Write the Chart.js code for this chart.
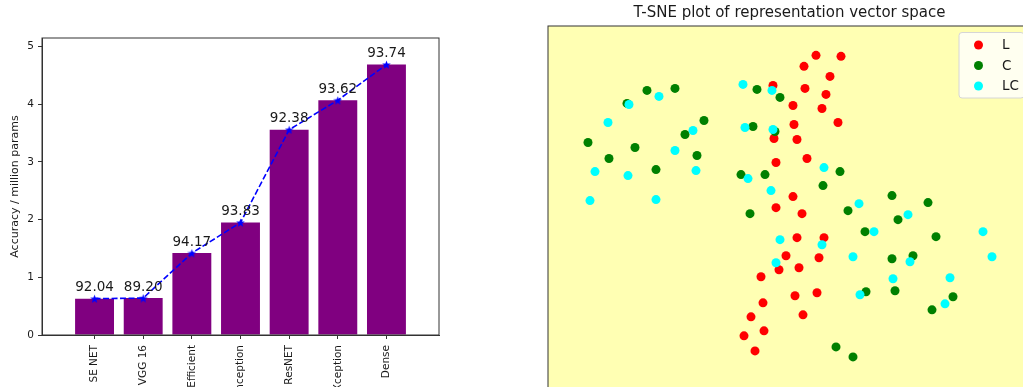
<!DOCTYPE html>
<html>
<head>
<meta charset="utf-8">
<script src="https://cdn.jsdelivr.net/npm/chart.js@4.4.1/dist/chart.umd.min.js"></script>
<style>
  html, body { margin: 0; padding: 0; background: #fff; overflow: hidden; width: 1023px; height: 387px; }
  #left { position: absolute; left: 0; top: 0; width: 450px; height: 420px; }
  #right { position: absolute; left: 540px; top: 0; width: 500px; height: 420px; }
</style>
</head>
<body>
<div id="left"><canvas id="barChart"></canvas></div>
<div id="right"><canvas id="tsneChart"></canvas></div>
<script>
// Bar chart data
const models = ['SE NET', 'VGG 16', 'Efficient', 'Inception', 'ResNET', 'Xception', 'Dense'];
const accPerParam = [0.63, 0.64, 1.42, 1.95, 3.56, 4.07, 4.69];
const accuracy = ['92.04', '89.20', '94.17', '93.83', '92.38', '93.62', '93.74'];
const yTicks = [0, 1, 2, 3, 4, 5];

// T-SNE points [x, y]
const pointsL = [
  [26.8, 35.1], [29.3, 35.0], [25.6, 34.0], [28.2, 33.0], [22.5, 32.1], [25.7, 31.8],
  [27.8, 31.2], [24.5, 30.1], [27.4, 29.8], [24.6, 28.2], [29.0, 28.4], [22.6, 26.8],
  [24.9, 26.7], [25.9, 24.8], [22.8, 24.4], [24.5, 21.0], [22.8, 19.9], [25.4, 19.3],
  [24.9, 16.9], [27.6, 16.9], [23.8, 15.1], [27.1, 14.9], [23.1, 13.7], [25.1, 13.9],
  [21.3, 13.0], [24.7, 11.1], [26.9, 11.4], [21.5, 10.4], [20.3, 9.0], [25.5, 9.2],
  [21.6, 7.6], [19.6, 7.1], [20.7, 5.6]
];
const pointsC = [
  [9.9, 31.6], [12.7, 31.8], [7.9, 30.3], [15.6, 28.6], [13.7, 27.2], [4.0, 26.4],
  [8.7, 25.9], [6.1, 24.8], [14.9, 25.1], [10.8, 23.7], [20.9, 31.7], [23.2, 30.9],
  [20.5, 28.0], [22.7, 27.5], [19.3, 23.2], [21.7, 23.2], [29.2, 23.5], [27.5, 22.1],
  [34.4, 21.1], [38.0, 20.4], [20.2, 19.3], [30.0, 19.6], [35.0, 18.7], [31.7, 17.5],
  [38.8, 17.0], [34.4, 14.8], [36.5, 15.1], [31.8, 11.5], [34.7, 11.6], [40.5, 11.0],
  [38.4, 9.7], [28.8, 6.0], [30.5, 5.0]
];
const pointsLC = [
  [19.5, 32.2], [22.4, 31.6], [11.1, 31.0], [8.1, 30.2], [6.0, 28.4], [14.5, 27.6],
  [19.7, 27.9], [22.5, 27.7], [12.7, 25.6], [4.7, 23.5], [8.0, 23.1], [14.8, 23.6],
  [20.0, 22.8], [27.6, 23.9], [22.3, 21.6], [4.2, 20.6], [10.8, 20.7], [31.1, 20.3],
  [36.0, 19.2], [32.6, 17.5], [43.5, 17.5], [23.2, 16.7], [27.4, 16.2], [30.5, 15.0],
  [44.4, 15.0], [36.2, 14.5], [22.8, 14.4], [34.5, 12.8], [40.2, 12.9], [31.2, 11.2],
  [39.7, 10.3]
];

const FONT = "'DejaVu Sans', sans-serif";
const TEXT = '#1a1a1a';

// filled star marker like matplotlib '*'
function makeStar(size, color) {
  const c = document.createElement('canvas');
  c.width = size; c.height = size;
  const g = c.getContext('2d');
  const cx = size / 2, cy = size / 2, R = size / 2, r = R * 0.42;
  g.beginPath();
  for (let i = 0; i < 10; i++) {
    const rad = i % 2 ? r : R;
    const a = -Math.PI / 2 + i * Math.PI / 5;
    g.lineTo(cx + rad * Math.cos(a), cy + 0.5 + rad * Math.sin(a));
  }
  g.closePath();
  g.fillStyle = color;
  g.fill();
  return c;
}

const framePlugin = {
  id: 'frame',
  afterDraw(chart) {
    const a = chart.chartArea, ctx = chart.ctx;
    ctx.save();
    ctx.strokeStyle = '#333';
    ctx.lineWidth = 1;
    ctx.strokeRect(a.left, a.top, a.right - a.left, a.bottom - a.top);
    ctx.restore();
  }
};

const barLabels = {
  id: 'barLabels',
  afterDatasetsDraw(chart) {
    const meta = chart.getDatasetMeta(1);
    const ctx = chart.ctx;
    ctx.save();
    ctx.font = '13.5px ' + FONT;
    ctx.fillStyle = TEXT;
    ctx.textAlign = 'center';
    ctx.textBaseline = 'alphabetic';
    meta.data.forEach((el, i) => {
      ctx.fillText(accuracy[i], el.x, el.y - 7.5);
    });
    ctx.restore();
  }
};

const barData = models.map((m, i) => ({ x: i, y: accPerParam[i] }));

new Chart(document.getElementById('barChart'), {
  type: 'bar',
  data: {
    datasets: [{
      type: 'line',
      data: barData,
      borderColor: '#0000ff',
      borderWidth: 1.6,
      borderDash: [6, 2.5],
      pointStyle: makeStar(9, '#0000ff'),
      pointRadius: 4.5,
      fill: false,
      order: 0
    }, {
      data: barData,
      backgroundColor: '#800080',
      categoryPercentage: 1,
      barPercentage: 0.8,
      order: 1
    }]
  },
  options: {
    responsive: true,
    maintainAspectRatio: false,
    animation: false,
    events: [],
    layout: { padding: { top: 38, right: 11, left: 0, bottom: 0 } },
    plugins: { legend: { display: false }, tooltip: { enabled: false } },
    scales: {
      x: {
        type: 'linear',
        min: -1.08,
        max: 7.08,
        offset: false,
        afterFit: (axis) => { axis.height = 85; },
        afterBuildTicks: (axis) => {
          axis.ticks = models.map((m, i) => ({ value: i }));
        },
        ticks: {
          autoSkip: false,
          maxRotation: 90,
          minRotation: 90,
          padding: 6,
          color: TEXT,
          font: { family: FONT, size: 10.5 },
          callback: (v) => models[v]
        },
        grid: { offset: false, drawOnChartArea: false, drawTicks: true, tickLength: 4, tickColor: '#333' },
        border: { color: '#333' }
      },
      y: {
        min: 0,
        max: 5.15,
        afterFit: (axis) => { axis.width = 42; },
        afterBuildTicks: (axis) => {
          axis.ticks = yTicks.map(v => ({ value: v }));
        },
        ticks: {
          padding: 4,
          color: TEXT,
          font: { family: FONT, size: 10.5 }
        },
        title: {
          display: true,
          text: 'Accuracy / million params',
          color: TEXT,
          font: { family: FONT, size: 11 },
          padding: { top: 9, bottom: 0 }
        },
        grid: { drawOnChartArea: false, drawTicks: true, tickLength: 4, tickColor: '#333' },
        border: { color: '#333' }
      }
    }
  },
  plugins: [framePlugin, barLabels]
});

// T-SNE scatter
const tsneBg = {
  id: 'tsneBg',
  beforeDatasetsDraw(chart) {
    const a = chart.chartArea, ctx = chart.ctx;
    ctx.save();
    ctx.fillStyle = '#ffffb3';
    ctx.fillRect(a.left, a.top, a.right - a.left, a.bottom - a.top);
    ctx.restore();
  }
};

const tsneLegend = {
  id: 'tsneLegend',
  afterDraw(chart) {
    const a = chart.chartArea, ctx = chart.ctx;
    const w = 65, h = 65.5;
    const x0 = a.right - 7 - w, y0 = a.top + 6.5;
    ctx.save();
    ctx.beginPath();
    ctx.roundRect(x0, y0, w, h, 3);
    ctx.fillStyle = 'rgba(255,255,255,0.8)';
    ctx.fill();
    ctx.strokeStyle = '#d6d6d6';
    ctx.lineWidth = 1;
    ctx.stroke();
    ctx.font = '13.5px ' + FONT;
    ctx.textBaseline = 'middle';
    ctx.fillStyle = TEXT;
    chart.data.datasets.forEach((ds, i) => {
      const cy = y0 + 12.5 + i * 20.5;
      ctx.beginPath();
      ctx.arc(x0 + 19.5, cy, 4.5, 0, Math.PI * 2);
      ctx.fillStyle = ds.backgroundColor;
      ctx.fill();
      ctx.fillStyle = TEXT;
      ctx.fillText(ds.label, x0 + 43, cy + 0.5);
    });
    ctx.restore();
  }
};

const toXY = (arr) => arr.map(p => ({ x: p[0], y: p[1] }));

new Chart(document.getElementById('tsneChart'), {
  type: 'scatter',
  data: {
    datasets: [
      { label: 'L', data: toXY(pointsL), backgroundColor: '#ff0000', order: 2 },
      { label: 'C', data: toXY(pointsC), backgroundColor: '#008000', order: 1 },
      { label: 'LC', data: toXY(pointsLC), backgroundColor: '#00ffff', order: 0 }
    ]
  },
  options: {
    responsive: true,
    maintainAspectRatio: false,
    animation: false,
    events: [],
    layout: { padding: { top: 0, left: 8, right: 9, bottom: 13 } },
    elements: { point: { radius: 4.5, borderWidth: 0, hoverRadius: 4.5 } },
    plugins: {
      legend: { display: false },
      tooltip: { enabled: false },
      title: {
        display: true,
        text: 'T-SNE plot of representation vector space',
        color: TEXT,
        font: { family: FONT, size: 15, weight: 'normal' },
        padding: { top: 4, bottom: 4 }
      }
    },
    scales: {
      x: { display: false, min: 0, max: 48.3 },
      y: { display: false, min: 0, max: 38.03 }
    }
  },
  plugins: [tsneBg, framePlugin, tsneLegend]
});
</script>
</body>
</html>
